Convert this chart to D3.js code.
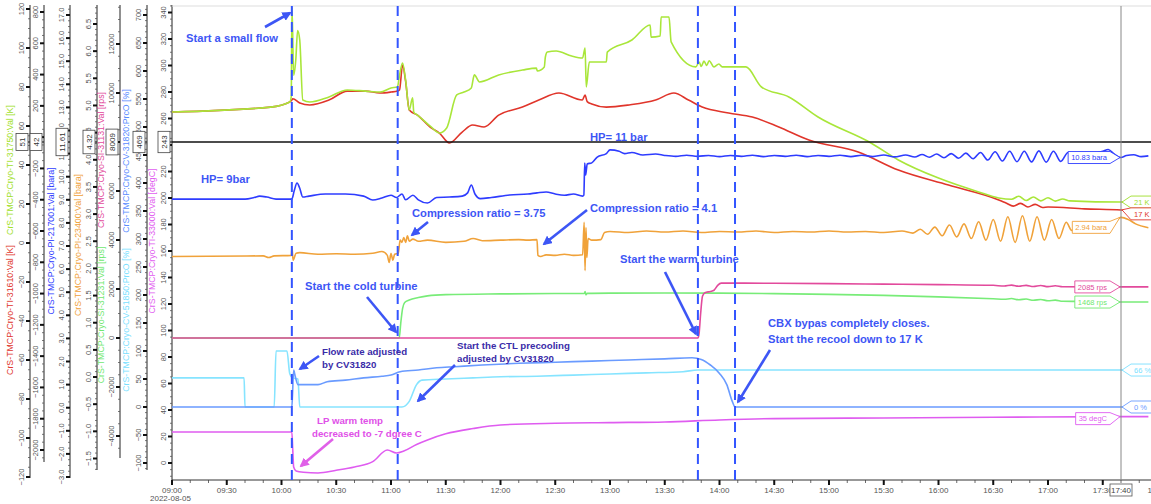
<!DOCTYPE html>
<html><head><meta charset="utf-8">
<script src="https://cdn.jsdelivr.net/npm/d3@7"></script>
<style>
body{margin:0;background:#fff;}
svg{display:block;font-family:"Liberation Sans",Arial,sans-serif;}
</style></head><body>
<svg id="c" width="1151" height="504"></svg>
<script>
// ---------------- DATA ----------------
const xTickLabels = ["09:00","09:30","10:00","10:30","11:00","11:30","12:00","12:30","13:00","13:30","14:00","14:30","15:00","15:30","16:00","16:30","17:00","17:30","18:00"];
const events = ["10:05:40","11:03:40","13:48:10","14:08:30"];
const cursorTime = "17:40";

const ticksK    = [-120,-100,-80,-60,-40,-20,0,20,40,60,80,100,120];
const ticksB    = [-2000,-1800,-1600,-1400,-1200,-1000,-800,-600,-400,-200,0,200,400,600,800];
const ticksHP   = [-3,-2,-1,0,1,2,3,4,5,6,7,8,9,10,11,12,13,14,15,16,17];
const ticksLP   = [-1.5,-1,-0.5,0,0.5,1,1.5,2,2.5,3,3.5,4,4.5,5,5.5,6,6.5];
const ticksRps  = [-4000,-2000,0,2000,4000,6000,8000,10000,12000];
const ticksPct  = [-100,-50,0,50,100,150,200,250,300,350,400,450,500,550,600,650,700];
const ticksDegC = [0,20,40,60,80,100,120,140,160,180,200,220,240,260,280,300,320,340];

const cursorReadouts = ["51","42","11.61","4.32","8009","469","243"];

const greenK = [["09:00",67.2],["09:54",69.7],["10:04:30",72.3],["10:05:20",75],["10:05:45",121],["10:06:40",86],["10:07:50",94],["10:08:50",109],["10:10",104],["10:11:40",73.3],["10:15:30",72.3],["10:26",74.9],["10:36",78.5],["10:46",77.9],["10:54",77.4],["11:00",79.5],["11:03:30",80],["11:04:40",86],["11:06:20",92.3],["11:08",83.6],["11:10",68.2],["11:11:50",74.4],["11:12:30",67],["11:14:30",65.6],["11:22",59.5],["11:26:30",56.4],["11:30:30",59],["11:36",75.9],["11:40",77.4],["11:44",79.5],["11:45:40",86.2],["11:48:30",82.6],["11:59",86.2],["12:12",88.7],["12:19:40",89.7],["12:20:10",88.2],["12:24",90.3],["12:24:35",95.4],["12:25:40",97.9],["12:30:30",98.5],["12:39",95.9],["12:45",94.9],["12:46:20",100],["12:47",80],["12:48:40",92.8],["12:58",92.8],["12:58:30",97.9],["13:12",104.1],["13:22",111.8],["13:22:30",105.6],["13:27:30",106.2],["13:28",115.9],["13:32:20",115.9],["13:33:30",103.1],["13:47",90.3],["13:48:50",92.8],["13:50",90.5],["13:51:30",93.3],["13:53",91],["13:54:20",93.5],["13:57",90.3],["13:59:40",91.8],["14:01:30",90.3],["14:14:30",90.3],["14:23",80],["14:38",74.9],["14:54",64.6],["15:23",51.3],["15:38",42.6],["16:00",33.3],["16:22",26.2],["16:33",23.1],["16:40",22.4],["16:44",24],["16:48",21.8],["16:52",23.6],["16:56",21.6],["17:00",23.2],["17:04",21.5],["17:08",22.6],["17:12",21.6],["17:40",21],["17:55",22]];

const redK = [["09:00",67.2],["09:54",69.7],["10:04:30",72.3],["10:05:40",73.3],["10:06:10",74],["10:10",71.8],["10:15:30",70.8],["10:26",73.3],["10:36",77.9],["10:46",77.9],["10:54",76.9],["11:00",77.4],["11:03:30",77.9],["11:04:40",78.5],["11:06:20",91.3],["11:08",83],["11:10",68.2],["11:14:30",65.6],["11:22",59],["11:26:30",56.4],["11:32",51.3],["11:39",56.9],["11:44:40",60.5],["11:51",59.5],["11:59",65.6],["12:12",69.7],["12:21",73.3],["12:32",76.9],["12:44:50",73.3],["12:46:20",75.9],["12:47:30",72.5],["12:50",71.3],["12:58",69.7],["13:10:30",70.8],["13:25",73.3],["13:35",76.9],["13:43",73.3],["13:50:30",69.7],["14:05",66.7],["14:18",64.6],["14:32:30",59.5],["14:49",52.8],["15:16",46.7],["15:38",37.4],["16:05:30",29.7],["16:33",22.1],["16:37",20.5],["16:41",18.9],["16:45",20.3],["16:49",18.5],["16:53",19.8],["16:57",18.2],["17:00",18.5],["17:20",17.5],["17:40",16.9],["17:55",15.4]];

const hpBara = [["09:00",9.03],["09:40",9.03],["09:45",9.1],["09:48",9.16],["09:52",9.12],["09:57",9.03],["10:05:40",9.03],["10:07",9.4],["10:08:30",9.73],["10:10",9.5],["10:11:40",9.12],["10:15",9.16],["10:24",9.25],["10:35",9.25],["10:45",9.16],["10:50",8.99],["10:55",9.08],["11:00",9.2],["11:03",9.1],["11:06",9.25],["11:08",9.0],["11:12",9.2],["11:15",9.0],["11:20",8.86],["11:25",9.1],["11:32",9.12],["11:39",9.16],["11:42",9.3],["11:44",9.64],["11:46",9.25],["11:49",9.05],["11:55",9.1],["12:05",9.21],["12:15",9.25],["12:20",9.3],["12:25",9.34],["12:30",9.25],["12:35",9.2],["12:40",9.25],["12:45",9.16],["12:45:40",9.2],["12:46:10",10.59],["12:46:40",10.07],["12:47:30",10.55],["12:50",10.6],["12:53",10.85],["12:58",11.0],["13:00",11.16],["13:05",11.1],["13:08",11.0],["13:12",11.05],["13:18",10.94],["13:25",10.98],["13:30",10.92],["13:36",10.88],["13:42",10.93],["13:48",10.88],["13:54",10.92],["14:00",10.87],["14:06",10.92],["14:12",10.88],["14:18",10.93],["14:24",10.87],["14:30",10.92],["14:36",10.88],["14:42",10.93],["14:48",10.87],["14:54",10.92],["15:00",10.88],["15:06",10.93],["15:12",10.87],["15:18",10.93],["15:24",10.87],["15:30",10.94],["15:36",10.86],["15:42",10.94],["15:47",10.85],["15:51",10.96],["15:55",10.84],["15:59",10.98],["16:03",10.82],["16:07",11.0],["16:11",10.8],["16:15",11.02],["16:19",10.78],["16:23",11.05],["16:27",10.72],["16:31",11.08],["16:35",10.68],["16:39",11.1],["16:43",10.65],["16:47",11.1],["16:51",10.64],["16:55",11.12],["16:59",10.63],["17:03",11.1],["17:07",10.66],["17:11",11.05],["17:14",10.9],["17:30",11.1],["17:33",11.18],["17:36",11.0],["17:40",10.83],["17:43",10.92],["17:47",10.95],["17:51",10.87],["17:55",10.9]];

const lpBara = [["09:00",2.22],["09:50",2.23],["09:53",2.2],["09:56",2.23],["10:05:20",2.24],["10:05:45",2.39],["10:06:20",2.15],["10:08",2.28],["10:10",2.29],["10:20",2.26],["10:30",2.27],["10:40",2.26],["10:50",2.28],["10:55",2.31],["10:58",2.24],["10:59",2.11],["11:00",2.28],["11:01",2.15],["11:02",2.26],["11:04",2.28],["11:05",2.52],["11:06",2.48],["11:07",2.57],["11:08",2.48],["11:09",2.6],["11:10",2.5],["11:12",2.54],["11:15",2.5],["11:20",2.52],["11:30",2.48],["11:40",2.5],["11:45",2.55],["11:50",2.51],["12:00",2.52],["12:10",2.53],["12:15",2.52],["12:20",2.53],["12:20:30",2.24],["12:22",2.22],["12:25",2.25],["12:30",2.24],["12:35",2.26],["12:40",2.24],["12:45",2.25],["12:45:50",2.85],["12:46:20",1.96],["12:46:50",2.75],["12:47:20",2.2],["12:48",2.55],["12:50",2.52],["12:55",2.53],["12:57",2.66],["13:00",2.68],["13:10",2.66],["13:20",2.69],["13:30",2.67],["13:40",2.69],["13:50",2.66],["14:00",2.68],["14:10",2.67],["14:20",2.69],["14:30",2.66],["14:40",2.68],["14:50",2.67],["15:00",2.69],["15:10",2.67],["15:20",2.68],["15:30",2.66],["15:40",2.69],["15:46",2.65],["15:50",2.72],["15:54",2.63],["15:58",2.76],["16:02",2.6],["16:06",2.8],["16:10",2.58],["16:14",2.82],["16:18",2.55],["16:22",2.86],["16:26",2.52],["16:30",2.9],["16:34",2.5],["16:38",2.95],["16:42",2.48],["16:46",2.97],["16:50",2.5],["16:54",2.95],["16:58",2.52],["17:02",2.9],["17:06",2.55],["17:10",2.85],["17:13",2.7],["17:32",2.72],["17:36",2.82],["17:40",2.94],["17:44",2.9],["17:48",2.82],["17:55",2.75]];

const coldRps = [["09:00",0],["11:04:30",0],["11:05:20",600],["11:06:20",1200],["11:07:30",1450],["11:10",1550],["11:15",1650],["11:20",1720],["11:30",1770],["12:00",1800],["12:30",1815],["12:46",1820],["12:46:20",1900],["12:46:50",1760],["12:47:30",1820],["13:00",1830],["13:30",1835],["14:00",1830],["14:30",1810],["15:00",1780],["15:30",1740],["16:00",1680],["16:30",1600],["16:36",1580],["16:40",1610],["16:44",1560],["16:48",1590],["16:52",1540],["16:56",1570],["17:00",1520],["17:04",1545],["17:08",1500],["17:20",1490],["17:40",1468],["17:55",1470]];

const warmRps = [["09:00",0],["13:48:10",0],["13:48:50",200],["13:49:40",1000],["13:50:40",1700],["13:52",1850],["13:55",1900],["13:57",1950],["13:59",2150],["14:01",2240],["14:30",2235],["15:00",2220],["15:30",2200],["16:00",2180],["16:30",2150],["16:36",2120],["16:40",2160],["16:44",2110],["16:48",2150],["16:52",2100],["16:56",2140],["17:00",2095],["17:04",2130],["17:08",2090],["17:40",2085],["17:55",2085]];

const cv51850 = [["09:00",52],["09:39:30",52],["09:40",0],["09:56",0],["09:57",100],["10:03",100],["10:04:30",60],["10:06",52],["10:09",50],["10:10",0],["11:06",0],["11:10",10],["11:14",40],["11:17",48],["11:30",50],["11:45",52],["12:00",54],["12:20",55],["12:40",57],["13:00",59],["13:20",61],["13:40",63],["13:48",66],["17:55",66]];

const cv31820 = [["09:00",0],["10:05:40",0],["10:06",20],["10:06:40",66],["10:07:30",55],["10:09",40],["10:20",40],["10:25",45],["10:35",48],["10:45",52],["10:55",55],["11:00",57],["11:05",63],["11:15",66],["11:25",70],["11:35",72],["11:50",75],["12:10",78],["12:30",80],["12:50",82],["13:10",84],["13:30",86],["13:45",88],["13:50",85],["13:55",75],["14:00",60],["14:04",40],["14:07",10],["14:08:30",0],["17:55",0]];

const lpTemp = [["09:00",23.4],["10:05:40",23.4],["10:06:10",10],["10:06:40",-3],["10:08",-6],["10:12",-7],["10:20",-7.5],["10:30",-5.5],["10:40",-3],["10:50",1],["10:58",9.8],["11:03",7.5],["11:07",9],["11:14",14],["11:20",17.4],["11:30",22],["11:45",26],["12:00",28.7],["12:30",30],["13:00",30.5],["13:30",31],["14:00",32.5],["14:30",33.5],["15:30",34],["16:30",34.5],["17:40",35],["17:55",35]];

const tagTexts = ["10.83 bara","21 K","17 K","2.94 bara","2085 rps","1468 rps","66 %","0 %","35 degC"];
const tagValues = [10.83,21,17,2.94,2085,1468,66,0,35];

// ---------------- SETUP ----------------
const P = s => { const a = s.split(":").map(Number); return new Date(2022,7,5,a[0],a[1],a[2]||0); };
const svg = d3.select("#c");
const W = 1151, plotL = 172, plotR = 1151, plotT = 6, plotB = 480;
const x = d3.scaleTime().domain([P("09:00"), P("18:00")]).range([172, 1157.5]);

const yK   = d3.scaleLinear().domain([-120,120]).range([477,9]);
const yB   = d3.scaleLinear().domain([-2000,800]).range([450,12]);
const yHP  = d3.scaleLinear().domain([-3,17]).range([477,15]);
const yLP  = d3.scaleLinear().domain([-1.5,6.5]).range([458.5,24]);
const yRps = d3.scaleLinear().domain([-4000,12000]).range([436,44]);
const yPct = d3.scaleLinear().domain([-100,700]).range([463,15]);
const yDeg = d3.scaleLinear().domain([0,340]).range([463,12.5]);

const C = {red:"#e0352b", greenK:"#a9e63a", hp:"#2e3cff", lp:"#f0a23a", cold:"#78ec78", warm:"#e24a9c", cyan:"#86e4ff", cvb:"#6a9bff", deg:"#df5cf0", ev:"#3355ff", ann:"#3d56f5", ann2:"#3a2ca8"};

// ---------------- LEFT AXES ----------------
const axes = [
  {s:yK, x:30, ticks:ticksK, minor:5, f:d3.format("d"), y1:478},
  {s:yB, x:44, ticks:ticksB, minor:50, f:d3.format("d"), y1:462},
  {s:yHP, x:70, ticks:ticksHP, minor:0.25, f:d3.format(".1f"), y1:478},
  {s:yLP, x:97, ticks:ticksLP, minor:0.1, f:d3.format(".1f"), y1:470},
  {s:yRps, x:120, ticks:ticksRps, minor:500, f:d3.format("d"), y1:458},
  {s:yPct, x:147, ticks:ticksPct, minor:10, f:d3.format("d"), y1:470},
  {s:yDeg, x:172, ticks:ticksDegC, minor:5, f:d3.format("d"), y1:480}
];
const gAx = svg.append("g");
axes.forEach(a => {
  const g = gAx.append("g");
  g.append("line").attr("x1",a.x).attr("x2",a.x).attr("y1",5).attr("y2",a.y1).attr("stroke","#222").attr("stroke-width",1);
  const vTop = a.s.invert(5), vBot = a.s.invert(a.y1);
  const n0 = Math.ceil(Math.min(vTop,vBot)/a.minor), n1 = Math.floor(Math.max(vTop,vBot)/a.minor);
  for (let n=n0; n<=n1; n++) {
    const yy = a.s(n*a.minor);
    g.append("line").attr("x1",a.x-2).attr("x2",a.x).attr("y1",yy).attr("y2",yy).attr("stroke","#555").attr("stroke-width",0.8);
  }
  a.ticks.forEach(t => {
    const yy = a.s(t);
    if (yy < 5 || yy > a.y1) return;
    g.append("line").attr("x1",a.x-4).attr("x2",a.x).attr("y1",yy).attr("y2",yy).attr("stroke","#111").attr("stroke-width",2);
    g.append("text").attr("transform",`translate(${a.x-6},${yy}) rotate(-90)`)
      .attr("text-anchor","middle").attr("font-size",7.5).attr("fill","#555").text(a.f(t));
  });
});

// axis titles
const titles = [
  {x:10, y:310, c:"#e0352b", t:"CrS-TMCP:Cryo-TI-31610:Val [K]"},
  {x:10, y:170, c:"#a0e028", t:"CrS-TMCP:Cryo-TI-31750:Val [K]"},
  {x:51, y:241, c:"#2e3cff", t:"CrS-TMCP:Cryo-PI-217001:Val [bara]"},
  {x:78, y:245, c:"#f0a23a", t:"CrS-TMCP:Cryo-PI-23400:Val [bara]"},
  {x:101, y:315, c:"#6fe86f", t:"CrS-TMCP:Cryo-SI-31231:Val [rps]"},
  {x:101, y:160, c:"#e24a9c", t:"CrS-TMCP:Cryo-SI-31131:Val [rps]"},
  {x:126, y:320, c:"#7adfff", t:"CrS-TMCP:Cryo-CV-51850:PrcO [%]"},
  {x:126, y:161, c:"#5a8cff", t:"CrS-TMCP:Cryo-CV-31820:PrcO [%]"},
  {x:152, y:241, c:"#df5cf0", t:"CrS-TMCP:Cryo-TI-33000:Val [degC]"}
];
titles.forEach(d => {
  svg.append("text").attr("transform",`translate(${d.x},${d.y}) rotate(-90)`).attr("text-anchor","middle")
    .attr("dy","0.35em").attr("font-size",8.8).attr("fill",d.c).text(d.t);
});

// ---------------- X AXIS ----------------
svg.append("line").attr("x1",plotT?plotL:plotL).attr("x2",plotR).attr("y1",plotT).attr("y2",plotT).attr("stroke","#ddd");
const gx = svg.append("g");
gx.append("line").attr("x1",plotL).attr("x2",plotR).attr("y1",plotB).attr("y2",plotB).attr("stroke","#333");
const minorT = d3.timeMinute.every(10).range(P("09:00"), P("18:01"));
minorT.forEach(t => { const xx = x(t); if (xx>plotR) return;
  gx.append("line").attr("x1",xx).attr("x2",xx).attr("y1",plotB).attr("y2",plotB+3).attr("stroke","#444").attr("stroke-width",0.8); });
xTickLabels.forEach(s => { const xx = x(P(s));
  gx.append("line").attr("x1",xx).attr("x2",xx).attr("y1",plotB).attr("y2",plotB+5).attr("stroke","#111").attr("stroke-width",2);
  gx.append("text").attr("x",xx).attr("y",plotB+13).attr("text-anchor","middle").attr("font-size",8).attr("fill","#555").text(s); });
gx.append("text").attr("x",150).attr("y",plotB+21).attr("font-size",8).attr("fill","#555").text("2022-08-05");

// ---------------- SERIES ----------------
svg.append("clipPath").attr("id","clip").append("rect").attr("x",plotL).attr("y",plotT).attr("width",plotR-plotL).attr("height",plotB-plotT);
const gS = svg.append("g").attr("clip-path","url(#clip)");
const series = [
  {d:redK, y:yK, c:C.red}, {d:greenK, y:yK, c:C.greenK},
  {d:hpBara, y:yHP, c:C.hp}, {d:lpBara, y:yLP, c:C.lp},
  {d:coldRps, y:yRps, c:C.cold}, {d:warmRps, y:yRps, c:C.warm},
  {d:cv51850, y:yPct, c:C.cyan}, {d:cv31820, y:yPct, c:C.cvb},
  {d:lpTemp, y:yDeg, c:C.deg}
];
series.forEach(s => {
  const line = d3.line().x(d => x(P(d[0]))).y(d => s.y(d[1])).curve(d3.curveMonotoneX);
  gS.append("path").datum(s.d).attr("d",line).attr("fill","none").attr("stroke",s.c).attr("stroke-width",1.6).attr("stroke-linejoin","round");
});

// cursor lines
const xc = x(P(cursorTime));
svg.append("line").attr("x1",plotL).attr("x2",plotR).attr("y1",142).attr("y2",142).attr("stroke","#111").attr("stroke-width",1.3);
svg.append("line").attr("x1",xc).attr("x2",xc).attr("y1",plotT).attr("y2",plotB).attr("stroke","#888").attr("stroke-width",1);
svg.append("rect").attr("x",xc-11).attr("y",484).attr("width",22).attr("height",12).attr("fill","#fff").attr("stroke","#555").attr("stroke-width",0.8);
svg.append("text").attr("x",xc).attr("y",493).attr("text-anchor","middle").attr("font-size",8).attr("fill","#444").text(cursorTime);

// event lines
events.forEach(e => { const xx = x(P(e));
  svg.append("line").attr("x1",xx).attr("x2",xx).attr("y1",plotT).attr("y2",plotB).attr("stroke",C.ev).attr("stroke-width",2).attr("stroke-dasharray","10,6"); });

// ---------------- ANNOTATIONS ----------------
const defs = svg.append("defs");
[["ah",C.ann],["ahp","#e060e8"]].forEach(([id,c]) => {
  defs.append("marker").attr("id",id).attr("viewBox","0 0 10 10").attr("refX",8).attr("refY",5)
    .attr("markerWidth",3.6).attr("markerHeight",3.6).attr("orient","auto")
    .append("path").attr("d","M0,0 L10,5 L0,10 z").attr("fill",c);
});
const texts = [
  {x:186,y:42,t:"Start a small flow",c:C.ann,s:11.2},
  {x:590,y:141,t:"HP= 11 bar",c:C.ann,s:11.2},
  {x:201,y:183,t:"HP= 9bar",c:C.ann,s:11.2},
  {x:412,y:217,t:"Compression ratio = 3.75",c:C.ann,s:11.2},
  {x:590,y:212,t:"Compression ratio = 4.1",c:C.ann,s:11.2},
  {x:305,y:290,t:"Start the cold turbine",c:C.ann,s:11.2},
  {x:620,y:263,t:"Start the warm turbine",c:C.ann,s:11.2},
  {x:768,y:327,t:"CBX bypas completely closes.",c:C.ann,s:11.2},
  {x:768,y:343,t:"Start the recool down to 17 K",c:C.ann,s:11.2},
  {x:322,y:355,t:"Flow rate adjusted",c:C.ann2,s:9.7},
  {x:322,y:368,t:"by CV31820",c:C.ann2,s:9.7},
  {x:457,y:349,t:"Start the CTL precooling",c:C.ann2,s:9.7},
  {x:457,y:362,t:"adjusted by CV31820",c:C.ann2,s:9.7},
  {x:317,y:424,t:"LP warm temp",c:"#e050e8",s:9.7},
  {x:312,y:437,t:"decreased to -7 dgree C",c:"#e050e8",s:9.7}
];
texts.forEach(d => svg.append("text").attr("x",d.x).attr("y",d.y).attr("font-size",d.s).attr("font-weight","bold").attr("fill",d.c).text(d.t));
const arrows = [
  [265,27,290,13,"ah",C.ann],[428,222,412,235,"ah",C.ann],[587,210,544,244,"ah",C.ann],
  [367,297,396,332,"ah",C.ann],[665,272,696,334,"ah",C.ann],[770,350,738,402,"ah",C.ann],
  [319,356,300,369,"ah",C.ann],[455,365,418,401,"ah",C.ann],[333,439,301,466,"ahp","#e060e8"]
];
arrows.forEach(a => svg.append("line").attr("x1",a[0]).attr("y1",a[1]).attr("x2",a[2]).attr("y2",a[3])
  .attr("stroke",a[5]).attr("stroke-width",2.6).attr("marker-end",`url(#${a[4]})`));

// ---------------- VALUE TAGS ----------------
const tagScales = [yHP,yK,yK,yLP,yRps,yRps,yPct,yPct,yDeg];
const tagCols = [C.hp,"#9ede2a",C.red,C.lp,C.warm,"#6fe86f","#7adfff",C.cvb,C.deg];
const tagSide = ["L","R","R","L","L","L","R","R","L"];
const tagOff  = [0,0,4,10,0,0,0,0,2];
tagTexts.forEach((t,i) => {
  const tip = tagScales[i](tagValues[i]); const yc = tip + tagOff[i];
  const g = svg.append("g");
  const path = g.append("path");
  const tx = g.append("text").attr("font-size",7.5).attr("fill",tagCols[i]).attr("y",yc+2.7).text(t);
  const w = tx.node().getComputedTextLength();
  let d;
  if (tagSide[i]==="L") {
    const x1 = xc-11, x0 = x1-w-6;
    d = `M${x0},${yc-6}L${x1},${yc-6}L${xc-1},${tip}L${x1},${yc+6}L${x0},${yc+6}Z`;
    tx.attr("x",x0+3);
  } else {
    const x0 = xc+10, x1 = x0+w+8;
    d = `M${xc+1},${tip}L${x0},${yc-6}L${x1},${yc-6}L${x1},${yc+6}L${x0},${yc+6}Z`;
    tx.attr("x",x0+3);
  }
  path.attr("d",d).attr("fill","#fff").attr("stroke",tagCols[i]).attr("stroke-width",0.9);
});

// ---------------- CURSOR READOUT BOXES ----------------
axes.forEach((a,i) => {
  const cx = a.x-8;
  const g = svg.append("g");
  const r = g.append("rect");
  const tx = g.append("text").attr("transform",`translate(${cx+3},142) rotate(-90)`).attr("text-anchor","middle")
    .attr("font-size",8).attr("fill","#333").text(cursorReadouts[i]);
  const L = tx.node().getComputedTextLength();
  r.attr("x",cx-6).attr("y",142-L/2-4).attr("width",12).attr("height",L+8).attr("fill","#fff").attr("stroke","#444").attr("stroke-width",0.8);
  g.append("line").attr("x1",cx+6).attr("x2",a.x).attr("y1",142).attr("y2",142).attr("stroke","#111").attr("stroke-width",1.2);
});
</script>
</body></html>
